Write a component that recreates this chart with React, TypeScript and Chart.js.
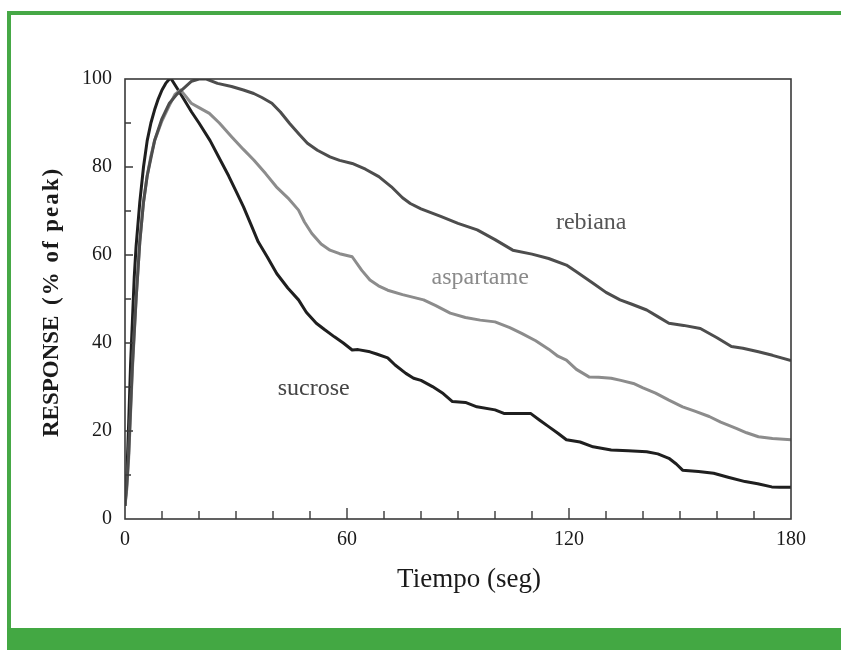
import React, { useEffect, useRef } from "react";
import { Chart, registerables } from "chart.js";

Chart.register(...registerables);

// ---- Data (time in seconds, response in % of peak) ----
const sucroseT = [0, 0.5, 1, 1.5, 2, 2.5, 3, 4, 5, 6, 7, 8, 9, 10, 11, 12, 12.5, 14, 16, 18, 20, 23, 25.5, 28, 30, 32, 34, 36, 38.5, 41, 44, 46.9, 49, 51.7, 54, 56.6, 59, 61.4, 63, 66.2, 68, 71, 73, 75.9, 78, 80, 83.1, 86, 88.5, 92, 95.1, 100, 102.4, 106, 109.6, 112, 114.5, 117, 119.3, 123, 126.5, 131.4, 136, 141, 144, 147, 149, 150.7, 155, 159.1, 163, 167.6, 171, 174.8, 177, 180];
const sucroseV = [3, 10, 22, 35, 45, 55, 62, 72, 80, 86, 90, 93, 95.5, 97.5, 99, 100, 100, 98, 95.3, 92.5, 90, 86, 82, 78, 74.5, 71, 67, 63, 59.5, 55.8, 52.5, 49.8, 47, 44.5, 43, 41.4, 40, 38.4, 38.5, 38, 37.5, 36.6, 35, 33.1, 32, 31.5, 30.1, 28.5, 26.7, 26.5, 25.5, 24.8, 24, 24, 24, 22.5, 21, 19.5, 18, 17.5, 16.4, 15.7, 15.5, 15.3, 14.8, 13.8, 12.5, 11.1, 10.8, 10.4, 9.5, 8.5, 8, 7.3, 7.2, 7.2];

const rebianaT = [0, 0.5, 1, 1.5, 2, 3, 4, 5, 6, 7, 8, 10, 12, 14, 16, 18, 20, 22, 25, 28.8, 32, 34.8, 37, 39.7, 42, 44.5, 47, 49.3, 52, 55.4, 58, 61.4, 65, 68.6, 72, 75, 77.1, 80, 85.5, 90, 95.2, 100, 104.8, 110, 114.5, 119.3, 122, 126.5, 130, 133.8, 137, 141, 144, 147, 151, 155.5, 160, 163.9, 167, 171.2, 175, 180];
const rebianaV = [3, 8, 15, 25, 35, 50, 63, 72, 78, 82, 86, 91, 94.5, 96.5, 98, 99.5, 100, 100, 99, 98.3, 97.5, 96.7, 95.8, 94.5, 92.5, 89.9, 87.5, 85.4, 83.8, 82.3, 81.5, 80.8, 79.5, 77.8, 75.5, 73, 71.7, 70.5, 68.7, 67.2, 65.7, 63.5, 61.1, 60.2, 59.2, 57.7, 56.2, 53.6, 51.5, 49.8, 48.8, 47.5, 46, 44.5, 44, 43.3, 41.2, 39.2, 38.8, 38, 37.2, 36];

const aspartameT = [0, 0.5, 1, 1.5, 2, 3, 4, 5, 6, 7, 8, 10, 12, 13.5, 15, 16.5, 17.9, 20, 22.8, 25.5, 28.8, 32, 34.8, 38, 40.9, 44, 46.9, 48.5, 50.5, 53, 55.4, 58, 61.4, 64, 66.2, 68.5, 71, 75, 80.7, 84, 87.9, 92, 96, 100, 104, 107.2, 111, 114.5, 117, 119.3, 122, 125.4, 128, 131.4, 134, 137.4, 140, 143.4, 147, 150.7, 154, 157.9, 161, 165.2, 168, 171.2, 175, 180];
const aspartameV = [3, 7, 14, 24, 34, 50, 63, 72, 78, 82.5, 86, 90.5, 94, 96.5, 97.5, 96, 94.5, 93.5, 92.2, 90, 86.9, 84, 81.6, 78.5, 75.5, 73, 70.2, 67.5, 64.9, 62.5, 61.1, 60.3, 59.6, 56.5, 54.3, 53, 52, 51, 49.8, 48.5, 46.8, 45.8, 45.2, 44.8, 43.5, 42.2, 40.5, 38.6, 37, 36.1, 34, 32.3, 32.2, 32, 31.5, 30.8, 29.8, 28.6, 27, 25.5, 24.5, 23.3, 22, 20.6, 19.6, 18.7, 18.3, 18];

const seriesNames = ["rebiana", "aspartame", "sucrose"];
const labelAnchorsT = [126, 96, 51];
const labelAnchorsV = [67.3, 54.8, 29.5];

const xMin = 0;
const xMax = 180;
const xStep = 10;
const xLabelStep = 60;
const yMin = 0;
const yMax = 100;
const yStep = 10;
const yLabelStep = 20;

const xTitle = "Tiempo (seg)";
const yTitleMain = "RESPONSE";
const yTitleSub = "(% of peak)";

const SERIF = '"Liberation Serif", "Times New Roman", serif';

const toPoints = (t: number[], v: number[]) => t.map((x, i) => ({ x, y: v[i] }));

export default function App() {
  const canvasRef = useRef<HTMLCanvasElement | null>(null);

  useEffect(() => {
    if (!canvasRef.current) return;
    const lineColors = ["#4d4d4d", "#8c8c8c", "#1f1f1f"];
    const textColors = ["#555555", "#8a8a8a", "#444444"];

    const decor = {
      id: "decor",
      afterDraw(chart: any) {
        const { ctx, chartArea } = chart;
        const xs = chart.scales.x;
        const ys = chart.scales.y;
        ctx.save();
        // frame
        ctx.strokeStyle = "#3a3a3a";
        ctx.lineWidth = 1.6;
        ctx.strokeRect(chartArea.left, chartArea.top, chartArea.right - chartArea.left, chartArea.bottom - chartArea.top);
        // inward ticks
        ctx.lineWidth = 1.4;
        ctx.beginPath();
        for (let v = xMin + xStep; v < xMax; v += xStep) {
          const px = xs.getPixelForValue(v);
          const len = v % xLabelStep === 0 ? 11 : 8;
          ctx.moveTo(px, chartArea.bottom);
          ctx.lineTo(px, chartArea.bottom - len);
        }
        for (let v = yMin + yStep; v < yMax; v += yStep) {
          const py = ys.getPixelForValue(v);
          const len = v % yLabelStep === 0 ? 8 : 6;
          ctx.moveTo(chartArea.left, py);
          ctx.lineTo(chartArea.left + len, py);
        }
        ctx.stroke();

        // series annotations
        ctx.font = `24px ${SERIF}`;
        ctx.textAlign = "center";
        ctx.textBaseline = "middle";
        seriesNames.forEach((name, i) => {
          ctx.fillStyle = textColors[i];
          ctx.fillText(name, xs.getPixelForValue(labelAnchorsT[i]), ys.getPixelForValue(labelAnchorsV[i]));
        });

        // x title
        ctx.fillStyle = "#1a1a1a";
        ctx.font = `27px ${SERIF}`;
        ctx.textAlign = "center";
        ctx.textBaseline = "middle";
        ctx.fillText(xTitle, (chartArea.left + chartArea.right) / 2 + 11, 580);

        // y title (rotated)
        ctx.translate(52, 0);
        ctx.rotate(-Math.PI / 2);
        ctx.font = `bold 23px ${SERIF}`;
        ctx.textAlign = "left";
        ctx.fillText(yTitleMain, -437, 0);
        (ctx as any).letterSpacing = "2px";
        ctx.fillText(yTitleSub, -305, 0);
        ctx.restore();
      },
    };

    const chart = new Chart(canvasRef.current, {
      type: "line",
      data: {
        datasets: [
          { label: seriesNames[0], data: toPoints(rebianaT, rebianaV), borderColor: lineColors[0] },
          { label: seriesNames[1], data: toPoints(aspartameT, aspartameV), borderColor: lineColors[1] },
          { label: seriesNames[2], data: toPoints(sucroseT, sucroseV), borderColor: lineColors[2] },
        ].map((d) => ({ ...d, borderWidth: 3, pointRadius: 0, tension: 0, fill: false, borderJoinStyle: "round" as const })),
      },
      options: {
        animation: false,
        responsive: false,
        maintainAspectRatio: false,
        layout: { padding: { top: 79, right: 50, left: 0, bottom: 0 } },
        plugins: { legend: { display: false }, tooltip: { enabled: false } },
        scales: {
          x: {
            type: "linear",
            min: xMin,
            max: xMax,
            grid: { display: false, drawTicks: false },
            border: { display: false },
            ticks: {
              stepSize: xStep,
              autoSkip: false,
              maxRotation: 0,
              padding: 9,
              color: "#1a1a1a",
              font: { family: SERIF, size: 20 },
              callback: (v: any) => (Number(v) % xLabelStep === 0 ? String(v) : ""),
            },
            afterFit: (scale: any) => {
              scale.height = 131;
            },
          },
          y: {
            min: yMin,
            max: yMax,
            grid: { display: false, drawTicks: false },
            border: { display: false },
            ticks: {
              stepSize: yStep,
              autoSkip: false,
              padding: 13,
              color: "#1a1a1a",
              font: { family: SERIF, size: 20 },
              callback: (v: any) => (Number(v) % yLabelStep === 0 ? String(v) : ""),
            },
            afterFit: (scale: any) => {
              scale.width = 125;
            },
          },
        },
      },
      plugins: [decor],
    });
    return () => chart.destroy();
  }, []);

  return (
    <div style={{ position: "absolute", left: 0, top: 0, width: 841, height: 650, background: "#fff", overflow: "hidden" }}>
      <div style={{ position: "absolute", left: 7, top: 11, width: 834, height: 4, background: "#46a846" }} />
      <div style={{ position: "absolute", left: 7, top: 11, width: 4, height: 620, background: "#46a846" }} />
      <div style={{ position: "absolute", left: 7, top: 628, width: 834, height: 22, background: "#43a843" }} />
      <canvas ref={canvasRef} width={841} height={650} style={{ position: "absolute", left: 0, top: 0, width: 841, height: 650 }} />
    </div>
  );
}
